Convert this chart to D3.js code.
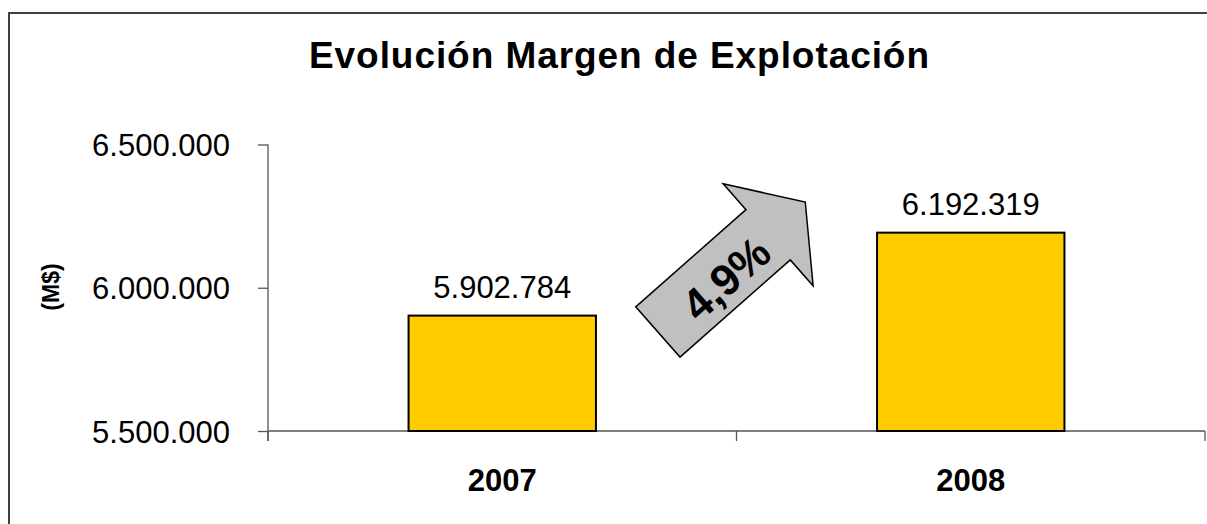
<!DOCTYPE html>
<html><head><meta charset="utf-8">
<script src="https://cdn.jsdelivr.net/npm/d3@7"></script>
<style>
body{margin:0;background:#fff;}
text{font-family:"Liberation Sans",Arial,sans-serif;fill:#000;}
</style></head>
<body>
<svg id="chart" width="1207" height="524"></svg>
<script>
const categories = ["2007", "2008"];
const values = [5902784, 6192319];
const yTicks = [5500000, 6000000, 6500000];
const yTickLabels = ["5.500.000", "6.000.000", "6.500.000"];
const valueLabels = ["5.902.784", "6.192.319"];
const title = "Evolución Margen de Explotación";
const yTitle = "(M$)";

const svg = d3.select("#chart");
const W = 1207, H = 524;
const plot = {left: 268, right: 1205, top: 144.5, bottom: 431};

// outer border (only top & left visible)
svg.append("rect").attr("x", 9).attr("y", 13).attr("width", W + 20).attr("height", H + 20)
  .attr("fill", "#fff").attr("stroke", "#404040").attr("stroke-width", 2);

const x = d3.scaleBand().domain(categories).range([plot.left, plot.right]).paddingInner(0).paddingOuter(0);
const y = d3.scaleLinear().domain([yTicks[0], yTicks[yTicks.length - 1]]).range([plot.bottom, plot.top]);

// title
svg.append("text").attr("x", 619).attr("y", 68).attr("text-anchor", "middle")
  .attr("font-size", 37).attr("font-weight", "bold")
  .attr("textLength", 620).attr("lengthAdjust", "spacing").text(title);

// y axis title
svg.append("text").attr("transform", "translate(51,287) rotate(-90)")
  .attr("text-anchor", "middle").attr("dominant-baseline", "central")
  .attr("font-size", 23).attr("font-weight", "bold").text(yTitle);

// y axis
const yAxis = d3.axisLeft(y).tickValues(yTicks).tickSizeInner(10).tickSizeOuter(0).tickPadding(28)
  .tickFormat((d, i) => yTickLabels[i]);
const gy = svg.append("g").attr("transform", `translate(${plot.left},0)`).call(yAxis);
gy.select(".domain").remove();
gy.selectAll(".tick line").attr("stroke", "#555").attr("stroke-width", 1.3);
gy.selectAll(".tick text").attr("font-size", 31).attr("font-family", "Liberation Sans, Arial, sans-serif")
  .attr("fill", "#000").attr("dy", "0.36em");
svg.append("line").attr("x1", plot.left).attr("x2", plot.left)
  .attr("y1", y(yTicks[yTicks.length - 1])).attr("y2", plot.bottom + 10)
  .attr("stroke", "#555").attr("stroke-width", 1.3);

// x axis line and boundary ticks
svg.append("line").attr("x1", plot.left).attr("x2", plot.right).attr("y1", plot.bottom).attr("y2", plot.bottom)
  .attr("stroke", "#555").attr("stroke-width", 1.3);
const boundaries = categories.map(c => x(c)).concat([x(categories[categories.length - 1]) + x.bandwidth()]);
svg.selectAll(".xtick").data(boundaries).join("line").attr("class", "xtick")
  .attr("x1", d => d).attr("x2", d => d).attr("y1", plot.bottom).attr("y2", plot.bottom + 10)
  .attr("stroke", "#555").attr("stroke-width", 1.3);
svg.selectAll(".xlab").data(categories).join("text").attr("class", "xlab")
  .attr("x", d => x(d) + x.bandwidth() / 2).attr("y", 491)
  .attr("text-anchor", "middle").attr("font-size", 31).attr("font-weight", "bold").text(d => d);

// bars
const barW = x.bandwidth() * 0.4;
svg.selectAll(".bar").data(values).join("rect").attr("class", "bar")
  .attr("x", (d, i) => x(categories[i]) + (x.bandwidth() - barW) / 2)
  .attr("y", d => y(d)).attr("width", barW).attr("height", d => plot.bottom - y(d))
  .attr("fill", "#FFCC00").attr("stroke", "#000").attr("stroke-width", 2);

// value labels
svg.selectAll(".vlab").data(values).join("text").attr("class", "vlab")
  .attr("x", (d, i) => x(categories[i]) + x.bandwidth() / 2).attr("y", d => y(d) - 18)
  .attr("text-anchor", "middle").attr("font-size", 31).text((d, i) => valueLabels[i]);

// growth arrow annotation
const growth = (values[1] / values[0] - 1) * 100;
const growthLabel = growth.toFixed(1).replace(".", ",") + "%";
const ax = x(categories[1]) - 13;
const ay = y(d3.mean(values));
const shape = [[-87.5, -33.5], [59.5, -33.5], [59.5, -68], [109, 0], [59.5, 68], [59.5, 33.5], [-87.5, 33.5]];
const ga = svg.append("g").attr("transform", `translate(${ax},${ay}) rotate(-41.4)`);
ga.append("path").attr("d", d3.line()(shape) + "Z")
  .attr("fill", "#C0C0C0").attr("stroke", "#000").attr("stroke-width", 1.5).attr("stroke-linejoin", "miter");
ga.append("text").attr("x", -1).attr("y", 5).attr("text-anchor", "middle").attr("dominant-baseline", "central")
  .attr("font-size", 44).attr("font-weight", "bold").text(growthLabel);
</script>
</body></html>
